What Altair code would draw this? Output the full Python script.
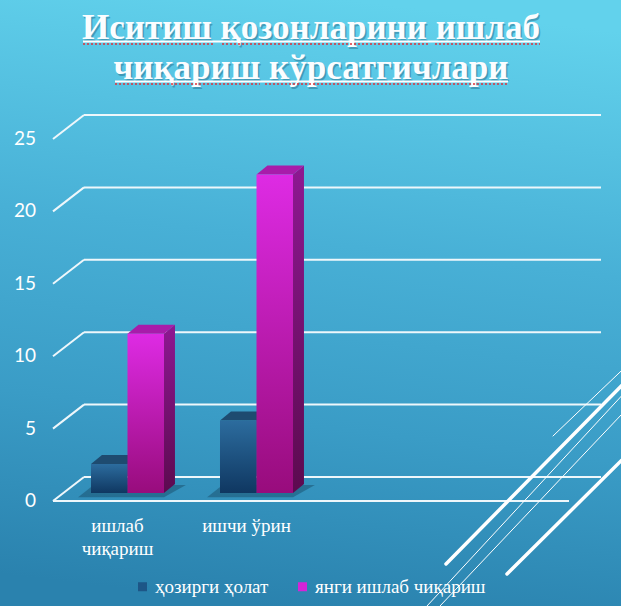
import altair as alt
import pandas as pd

# ---------------- data ----------------
categories = ["ишлаб\nчиқариш", "ишчи ўрин"]
series = ["ҳозирги ҳолат", "янги ишлаб чиқариш"]
current = [2, 5]
new_prod = [11, 22]
y_ticks = [0, 5, 10, 15, 20, 25]
title_lines = ["Иситиш қозонларини ишлаб", "чиқариш кўрсатгичлари"]

# ---------------- style / layout ----------------
W, H = 621, 606
BW = 0.283      # bar width (category units)
DX = 0.085      # 3-D depth, x (category units)
DY = 0.62       # 3-D depth, y (value units)
SERIF = "Liberation Serif"
GRID = "#eef7fb"

xs = alt.Scale(domain=[0, 1], range=[127.5, 256.5], zero=False, nice=False)
ys = alt.Scale(domain=[0, 25], range=[493, 131], zero=False, nice=False)

front_grad = [
    alt.Gradient(gradient="linear", x1=0, y1=0, x2=0, y2=1,
                 stops=[alt.GradientStop(color="#2c6c9e", offset=0),
                        alt.GradientStop(color="#0f3761", offset=1)]),
    alt.Gradient(gradient="linear", x1=0, y1=0, x2=0, y2=1,
                 stops=[alt.GradientStop(color="#de2be4", offset=0),
                        alt.GradientStop(color="#980c7c", offset=1)]),
]
side_grad = [
    alt.Gradient(gradient="linear", x1=0, y1=0, x2=0, y2=1,
                 stops=[alt.GradientStop(color="#1b4468", offset=0),
                        alt.GradientStop(color="#0b2a4a", offset=1)]),
    alt.Gradient(gradient="linear", x1=0, y1=0, x2=0, y2=1,
                 stops=[alt.GradientStop(color="#8e1892", offset=0),
                        alt.GradientStop(color="#5c0a4f", offset=1)]),
]
top_col = ["#1e4b70", "#a81caa"]
legend_col = ["#1d5687", "#d424d8"]

# ---------------- tables ----------------
rows, side_rows, top_rows = [], [], []
for i, cat in enumerate(categories):
    for j, vals in enumerate([current, new_prod]):
        v = vals[i]
        x0 = i - BW + j * BW
        x1 = x0 + BW
        bid = f"{i}-{j}"
        rows.append(dict(i=i, cat=cat, series=series[j], sid=j, bar=bid, v=v, x0=x0, x1=x1))
        side_rows += [dict(bar=bid, sid=j, x=x1, y=v, y2=0),
                      dict(bar=bid, sid=j, x=x1 + DX, y=v + DY, y2=DY)]
        top_rows += [dict(bar=bid, sid=j, y=v, x=x0, x2=x1),
                     dict(bar=bid, sid=j, y=v + DY, x=x0 + DX, x2=x1 + DX)]
bars = pd.DataFrame(rows)
side = pd.DataFrame(side_rows)
top = pd.DataFrame(top_rows)

shadow_rows = []
for i in range(len(categories)):
    shadow_rows += [dict(g=i, y=-0.3, x=i - BW - 0.10, x2=i + BW),
                    dict(g=i, y=0.55, x=i - BW + 0.02, x2=i + BW + 0.17)]
shadow = pd.DataFrame(shadow_rows)

grid = pd.DataFrame({"v": y_ticks, "lab": [str(t) for t in y_ticks]})
one = pd.DataFrame({"a": [0]})

# ---------------- layers ----------------
layers = []

bg_grad = alt.Gradient(gradient="linear", x1=0.56, y1=0, x2=0.44, y2=1,
                       stops=[alt.GradientStop(color="#62d2ec", offset=0),
                              alt.GradientStop(color="#48b0d6", offset=0.4),
                              alt.GradientStop(color="#3a9cc6", offset=0.7),
                              alt.GradientStop(color="#2a82ae", offset=1)])
layers.append(alt.Chart(one).mark_rect(color=bg_grad).encode(
    x=alt.value(0), x2=alt.value(W), y=alt.value(0), y2=alt.value(H)))

# back gridlines
layers.append(alt.Chart(grid).mark_rule(color=GRID, strokeWidth=2, yOffset=-16).encode(
    y=alt.Y("v:Q", scale=ys, axis=None),
    x=alt.value(84), x2=alt.value(601)))
# slanted side-wall gridlines
layers.append(alt.Chart(grid).mark_rule(color=GRID, strokeWidth=2, yOffset=8, y2Offset=-16).encode(
    y=alt.Y("v:Q", scale=ys, axis=None), y2="v:Q",
    x=alt.value(53), x2=alt.value(84)))
# floor front edge
layers.append(alt.Chart(grid[grid.v == 0]).mark_rule(color=GRID, strokeWidth=2, yOffset=8).encode(
    y=alt.Y("v:Q", scale=ys, axis=None), x=alt.value(53), x2=alt.value(569)))
# value labels (y axis)
layers.append(alt.Chart(grid).mark_text(
    font="Lato", fontSize=19, color="white", align="right", baseline="middle", dy=8).encode(
    y=alt.Y("v:Q", scale=ys, axis=None), x=alt.value(36), text="lab:N"))

# floor shadows
layers.append(alt.Chart(shadow).mark_area(orient="horizontal", color="#0d3049", opacity=0.35).encode(
    y=alt.Y("y:Q", scale=ys, axis=None),
    x=alt.X("x:Q", scale=xs, axis=None), x2="x2:Q", detail="g:N"))

for j in range(len(series)):
    layers.append(alt.Chart(side[side.sid == j]).mark_area(orient="vertical", color=side_grad[j]).encode(
        x=alt.X("x:Q", scale=xs, axis=None),
        y=alt.Y("y:Q", scale=ys, axis=None), y2="y2:Q", detail="bar:N"))
    layers.append(alt.Chart(top[top.sid == j]).mark_area(orient="horizontal", color=top_col[j]).encode(
        y=alt.Y("y:Q", scale=ys, axis=None),
        x=alt.X("x:Q", scale=xs, axis=None), x2="x2:Q", detail="bar:N"))
    layers.append(alt.Chart(bars[bars.sid == j]).mark_rect(color=front_grad[j]).encode(
        x=alt.X("x0:Q", scale=xs, axis=None), x2="x1:Q",
        y=alt.Y("v:Q", scale=ys, axis=None), y2=alt.datum(0)))

# category labels
cat_df = pd.DataFrame({"i": list(range(len(categories))), "cat": categories})
layers.append(alt.Chart(cat_df).mark_text(
    lineBreak="\n", font=SERIF, fontSize=19, color="white", baseline="top",
    align="center", dx=-10, lineHeight=23).encode(
    x=alt.X("i:Q", scale=xs, axis=None), y=alt.value(517), text="cat:N"))

# title (shadow + text)
title_df = pd.DataFrame({"t": ["\n".join(title_lines)]})
layers.append(alt.Chart(title_df).mark_text(
    lineBreak="\n", font=SERIF, fontSize=35, fontWeight="bold", color="#1c5876", opacity=0.4,
    align="center", baseline="alphabetic", lineHeight=40, dx=1.5, dy=1.5).encode(
    x=alt.value(311), y=alt.value(39), text="t:N"))
layers.append(alt.Chart(title_df).mark_text(
    lineBreak="\n", font=SERIF, fontSize=35, fontWeight="bold", color="#fbfdff",
    align="center", baseline="alphabetic", lineHeight=40).encode(
    x=alt.value(311), y=alt.value(39), text="t:N"))
# underline + spell-check squiggles (decoration)
for (xa, xb, yy) in [(83, 540, 41.5), (115, 508, 81.5)]:
    layers.append(alt.Chart(one).mark_rule(color="white", strokeWidth=2).encode(
        x=alt.value(xa), x2=alt.value(xb), y=alt.value(yy)))
for (xa, xb, yy) in [(83, 215, 44), (222, 430, 44), (435, 540, 44), (115, 260, 84), (265, 508, 84)]:
    layers.append(alt.Chart(one).mark_rule(color="#e0303a", strokeWidth=1.5, strokeDash=[2, 2]).encode(
        x=alt.value(xa), x2=alt.value(xb), y=alt.value(yy)))

# decorative diagonal lines (bottom right)
for (xa, ya, xb, yb, w) in [(446, 564, 640, 367, 3.5), (507, 574, 640, 442, 3.5),
                            (553, 436, 640, 353, 1), (427, 606, 640, 376, 1),
                            (440, 606, 640, 395, 1)]:
    layers.append(alt.Chart(one).mark_rule(color="white", strokeWidth=w, strokeCap="round").encode(
        x=alt.value(xa), y=alt.value(ya), x2=alt.value(xb), y2=alt.value(yb)))

# legend carrier (invisible marks)
layers.append(alt.Chart(bars).mark_square(size=0).encode(
    x=alt.X("x0:Q", scale=xs, axis=None), y=alt.Y("v:Q", scale=ys, axis=None),
    color=alt.Color("series:N", scale=alt.Scale(domain=series, range=legend_col),
                    legend=alt.Legend(orient="none", legendX=133, legendY=577, direction="horizontal",
                                      title=None, symbolType="square", symbolSize=81,
                                      symbolStrokeWidth=0, symbolOpacity=1,
                                      labelFont=SERIF, labelFontSize=19, labelColor="white",
                                      labelLimit=400, labelOffset=3, columnPadding=24, padding=0))))

chart = alt.layer(*layers).properties(
    width=W, height=H, padding=0, background="#2a82ae",
    autosize=alt.AutoSizeParams(type="none"),
).configure_view(strokeWidth=0)

chart.save("out.html", embed_options={"renderer": "svg", "actions": False})
